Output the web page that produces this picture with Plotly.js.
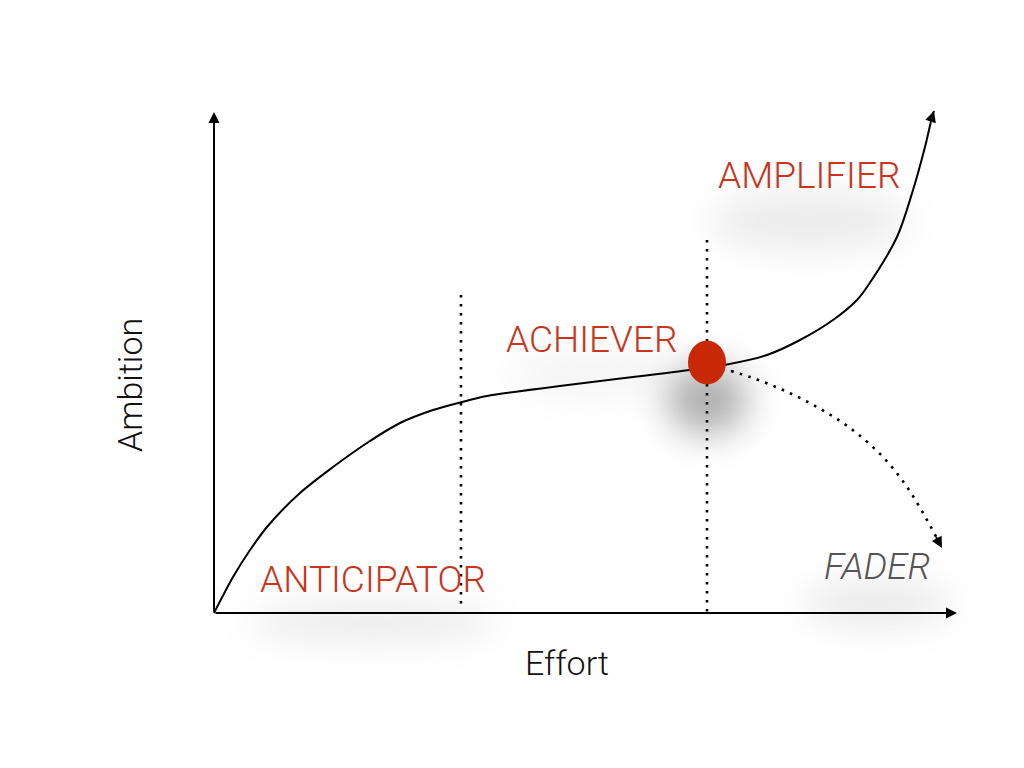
<!DOCTYPE html>
<html>
<head>
<meta charset="utf-8">
<script src="https://cdn.plot.ly/plotly-3.0.1.min.js"></script>
<style>
    html, body { margin: 0; padding: 0; background: #fff; }
    #chart { width: 1024px; height: 768px; }
</style>
</head>
<body>
<div id="chart"></div>
<script>
// main curve: anticipator -> achiever -> amplifier
const curveX = [0, 2.56, 4.85, 7.13, 11.57, 16.02, 20.59, 25.03, 29.48, 33.38, 36.74, 64.06, 66.35, 69.04, 74.43, 78.87, 83.31, 86.54, 87.89, 91.92, 94.08, 95.69, 96.64, 96.9];
const curveY = [0, 7.19, 12.57, 17.17, 23.95, 29.14, 33.93, 37.92, 40.52, 42.12, 43.31, 48.50, 49.00, 49.60, 51.50, 54.49, 58.48, 62.48, 65.07, 75.05, 84.43, 93.01, 99.0, 100.2];

// dotted branch: fader
const fadeX = [69.58, 72.14, 76.58, 81.16, 85.60, 90.04, 93.27, 95.96, 97.98];
const fadeY = [48.30, 47.11, 44.51, 41.12, 36.93, 31.14, 25.15, 18.56, 12.97];

// phase separators
const sepX = [33.24, 66.35];
const sepTop = [63.47, 74.45];
const sepBottom = [1.6, 0];

// stage labels
const stageText = ["AMPLIFIER", "ACHIEVER", "ANTICIPATOR", "FADER"];
const stageX = [80.08, 50.87, 21.40, 89.23];
const stageY = [87.23, 54.69, 6.59, 9.38];

// axis names
const axisText = ["Effort", "Ambition"];
const axisX = [47.51, -11.31];
const axisY = [-9.98, 45.51];
const axisEnd = [100, 100];

const peakIdx = 12;

const RED = "#c8341c";
const FONT = "Roboto, 'Liberation Sans', sans-serif";

const traces = [
    {
        x: curveX, y: curveY, mode: "lines", type: "scatter",
        line: {color: "#000", width: 2, shape: "spline", smoothing: 0.85},
        cliponaxis: false, hoverinfo: "skip"
    },
    {
        x: fadeX, y: fadeY, mode: "lines", type: "scatter",
        line: {color: "#000", width: 2.6, dash: "2.6px,6.4px", shape: "spline", smoothing: 1},
        cliponaxis: false, hoverinfo: "skip"
    }
];
sepX.forEach((x, i) => {
    traces.push({
        x: [x, x], y: [sepTop[i], sepBottom[i]], mode: "lines", type: "scatter",
        line: {color: "#000", width: 2.6, dash: "2.6px,6.4px"},
        cliponaxis: false, hoverinfo: "skip"
    });
});

const annotations = [];
stageText.forEach((t, i) => {
    annotations.push({
        x: stageX[i], y: stageY[i], text: t, showarrow: false,
        font: {
            family: FONT, size: 37, weight: 300,
            color: t === "FADER" ? "#555" : RED,
            style: t === "FADER" ? "italic" : "normal"
        }
    });
});
axisText.forEach((t, i) => {
    annotations.push({
        x: axisX[i], y: axisY[i], text: t, showarrow: false,
        textangle: i === 1 ? -90 : 0,
        font: {family: FONT, size: 34, weight: 300, color: "#111"}
    });
});

// axes drawn as arrows
const arrow = (x, y, ax, ay, w) => ({
    x: x, y: y, ax: ax, ay: ay, axref: "x", ayref: "y",
    showarrow: true, arrowhead: 2, arrowsize: 1.1, arrowwidth: w,
    arrowcolor: "#000", standoff: 0, startstandoff: 0, text: ""
});
// arrow pointing along the last segment of a line
const tipArrow = (xs, ys, f) => {
    const n = xs.length;
    const x = xs[n - 1], y = ys[n - 1];
    return arrow(x, y, x - f * (x - xs[n - 2]), y - f * (y - ys[n - 2]), 2);
};
annotations.push(arrow(axisEnd[0], 0, 0, 0, 2));
annotations.push(arrow(0, axisEnd[1], 0, 0, 2));
annotations.push(tipArrow(curveX, curveY, 1));
annotations.push(tipArrow(fadeX, fadeY, 0.45));

// soft shadows under labels and the dot
const shadow = (x, y, w, h, dy, a) => ({
    type: "circle", layer: "below", xref: "x", yref: "y",
    xsizemode: "pixel", ysizemode: "pixel", xanchor: x, yanchor: y,
    x0: -w / 2, x1: w / 2, y0: dy - h / 2, y1: dy + h / 2,
    fillcolor: `rgba(0,0,0,${a})`, line: {width: 0}
});
const shapes = [
    shadow(stageX[0], stageY[0], 200, 60, -45, 0.08),
    shadow(stageX[1], stageY[1], 170, 40, -35, 0.05),
    shadow(stageX[2], stageY[2], 250, 36, -42, 0.09),
    shadow(stageX[3], stageY[3], 150, 44, -38, 0.09),
    shadow(curveX[peakIdx], curveY[peakIdx], 80, 70, -32, 0.32),
    {
        type: "circle", layer: "above", xref: "x", yref: "y",
        xsizemode: "pixel", ysizemode: "pixel",
        xanchor: curveX[peakIdx], yanchor: curveY[peakIdx],
        x0: -19, x1: 19, y0: -17, y1: 27,
        fillcolor: "#c82808", line: {width: 0}
    }
];

const layout = {
    width: 1024,
    height: 768,
    paper_bgcolor: "#fff",
    plot_bgcolor: "#fff",
    margin: {l: 0, r: 0, t: 0, b: 0, pad: 0},
    showlegend: false,
    xaxis: {range: [-28.802, 109.017], visible: false, fixedrange: true},
    yaxis: {range: [-30.938, 122.355], visible: false, fixedrange: true},
    annotations: annotations,
    shapes: shapes
};

Plotly.newPlot("chart", traces, layout, {staticPlot: true}).then(gd => {
    const NS = "http://www.w3.org/2000/svg";
    const defs = gd.querySelector("svg.main-svg defs");
    const filter = document.createElementNS(NS, "filter");
    filter.setAttribute("id", "softShadow");
    filter.setAttribute("x", "-100%");
    filter.setAttribute("y", "-200%");
    filter.setAttribute("width", "300%");
    filter.setAttribute("height", "500%");
    const blur = document.createElementNS(NS, "feGaussianBlur");
    blur.setAttribute("stdDeviation", "18");
    filter.appendChild(blur);
    defs.appendChild(filter);
    gd.querySelectorAll(".shapelayer path").forEach(p => {
        const idx = +p.getAttribute("data-index");
        if (idx < 5) p.setAttribute("filter", "url(#softShadow)");
    });
});
</script>
</body>
</html>
